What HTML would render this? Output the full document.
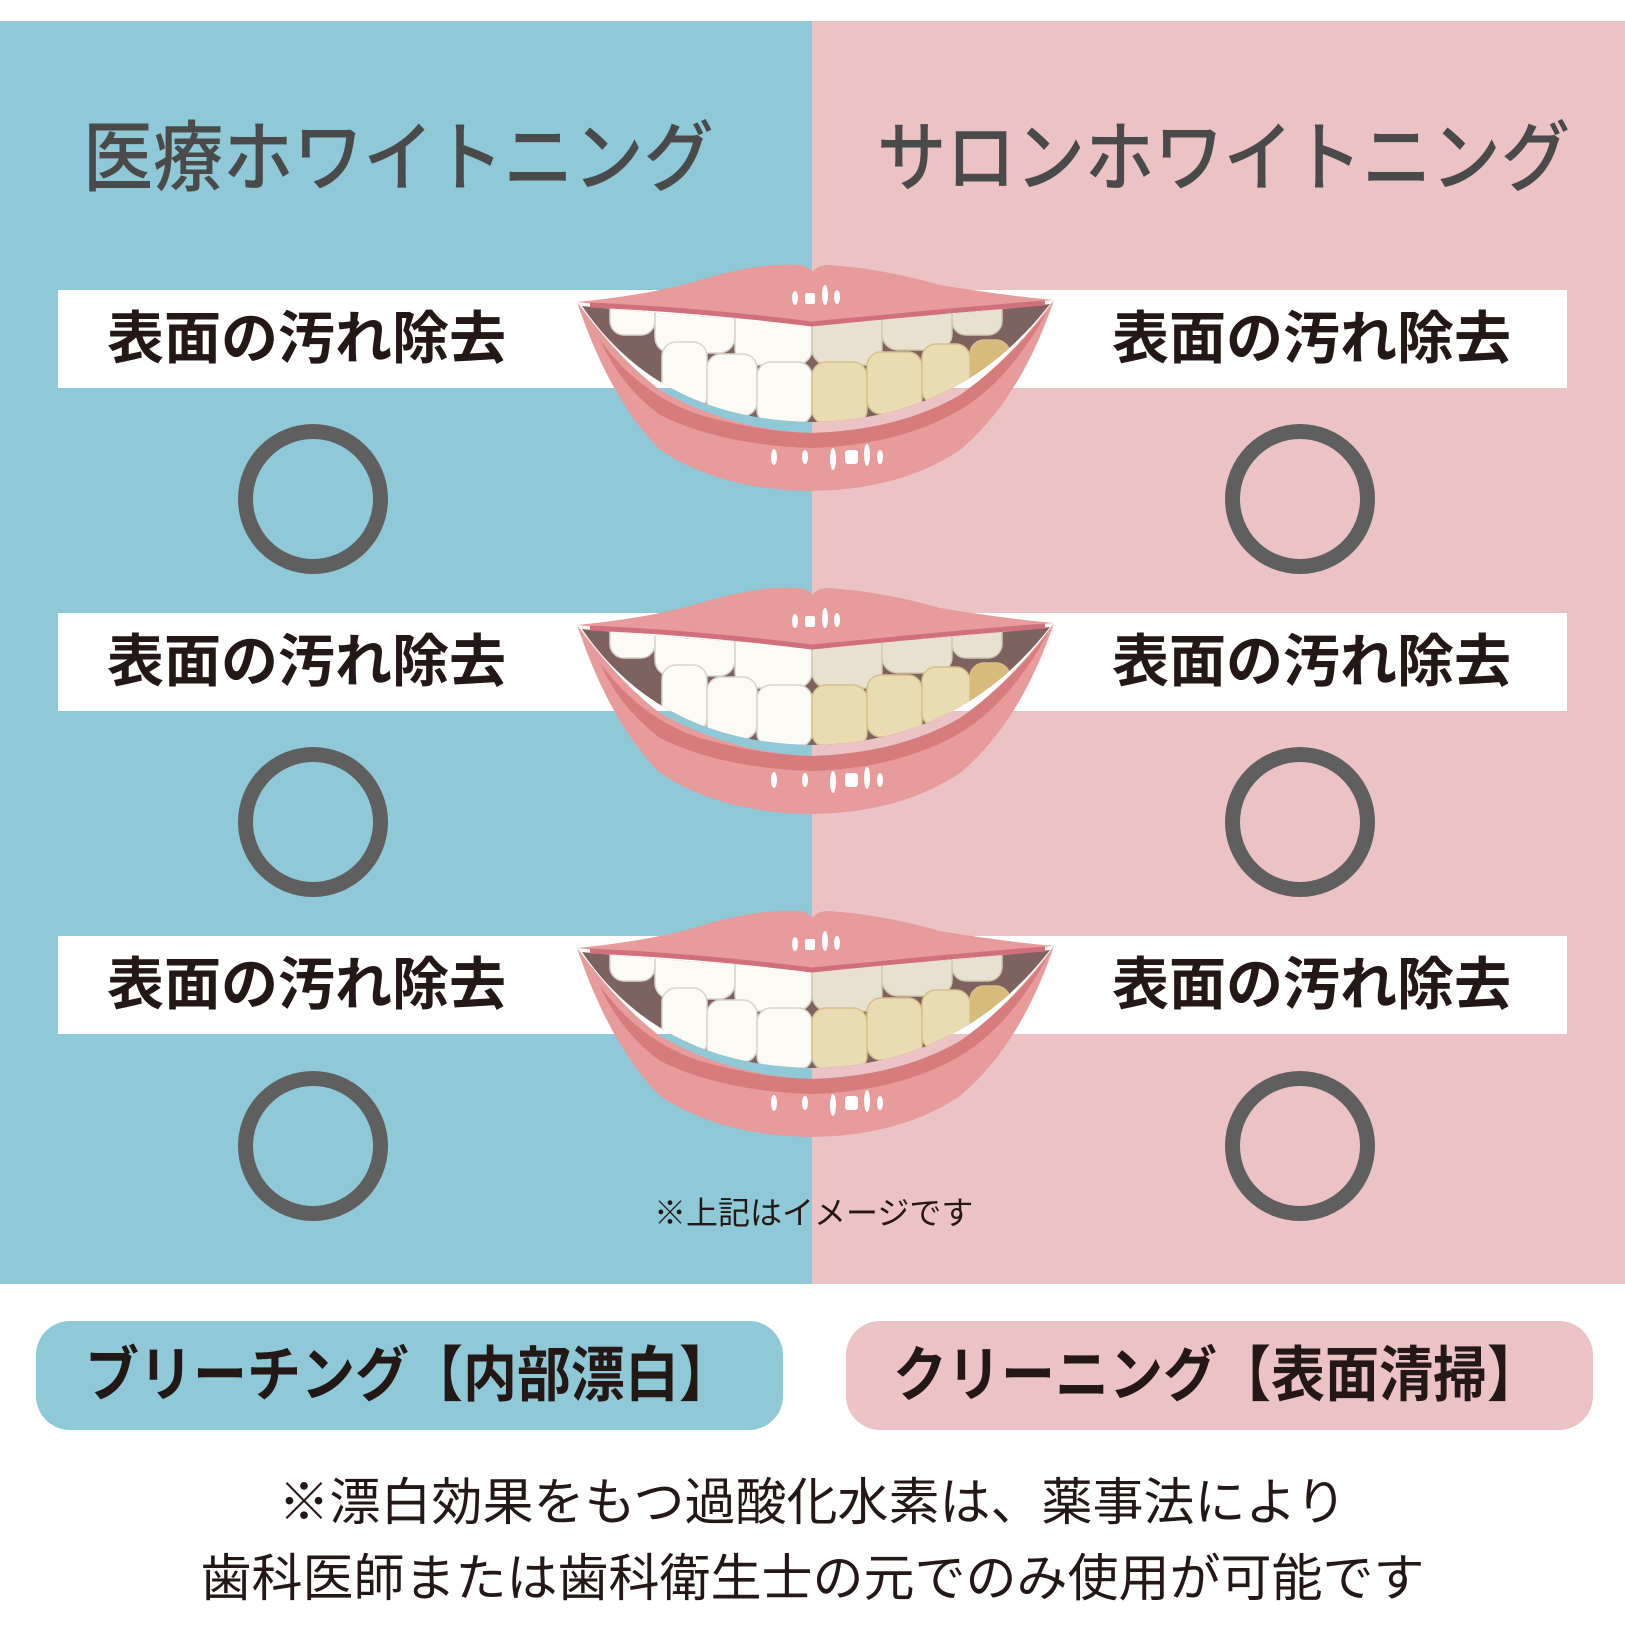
<!DOCTYPE html>
<html><head><meta charset="utf-8">
<style>
html,body{margin:0;padding:0;background:#fff}
body{width:1625px;height:1627px;position:relative;overflow:hidden;font-family:"Liberation Sans","Noto Sans CJK JP",sans-serif}
.p{position:absolute}
.bar{position:absolute;left:58px;width:1509px;height:98px;background:#fff}
.bt{position:absolute;font-weight:bold;font-size:57px;color:#231815;line-height:1;white-space:nowrap}
.c{position:absolute;width:120px;height:120px;border:15px solid #5f5f5f;border-radius:50%}
.title{position:absolute;top:121px;font-size:77px;color:#4a4a4a;line-height:1;white-space:nowrap;font-weight:500;transform-origin:0 0}
.pill{position:absolute;top:1321px;height:109px;width:747px;border-radius:34px;}
.pt{position:absolute;top:1346px;font-size:60px;font-weight:bold;color:#231815;line-height:1;white-space:nowrap;transform:scaleX(0.9);transform-origin:0 0}
.ln{position:absolute;left:0;width:1625px;text-align:center;font-size:51px;color:#231815;line-height:1;white-space:nowrap}
</style></head><body>
<div class="p" style="left:0;top:21px;width:812px;height:1263px;background:#8fc9d8"></div>
<div class="p" style="left:812px;top:21px;width:813px;height:1263px;background:#ebc3c5"></div>
<div class="title" style="left:83px;transform:scaleX(0.91)">医療ホワイトニング</div>
<div class="title" style="left:877px;transform:scaleX(0.9)">サロンホワイトニング</div>

<div class="bar" style="top:290px"></div>
<div class="bar" style="top:613px"></div>
<div class="bar" style="top:936px"></div>
<div class="bt" style="left:107px;top:311px">表面の汚れ除去</div>
<div class="bt" style="left:1112px;top:311px">表面の汚れ除去</div>
<div class="bt" style="left:107px;top:634px">表面の汚れ除去</div>
<div class="bt" style="left:1112px;top:634px">表面の汚れ除去</div>
<div class="bt" style="left:107px;top:957px">表面の汚れ除去</div>
<div class="bt" style="left:1112px;top:957px">表面の汚れ除去</div>

<div class="c" style="left:238px;top:424px"></div>
<div class="c" style="left:1225px;top:424px"></div>
<div class="c" style="left:238px;top:747px"></div>
<div class="c" style="left:1225px;top:747px"></div>
<div class="c" style="left:238px;top:1071px"></div>
<div class="c" style="left:1225px;top:1071px"></div>

<svg class="p" style="left:0;top:0" width="1625" height="1627">
<defs>
<clipPath id="op"><path d="M582,306 Q700,318 812,322 Q930,318 1050,304 Q960,420 812,422 Q660,420 582,306Z"/></clipPath>
<g id="m">
 <path d="M582,306 Q700,318 812,322 Q930,318 1050,304 Q960,420 812,422 Q660,420 582,306Z" fill="#7d625f"/>
 <g clip-path="url(#op)">
  <g fill="#fcfaf5" stroke="#d8d4cc" stroke-width="1.5">
   <rect x="610" y="290" width="45" height="45" rx="14"/>
   <rect x="655" y="295" width="80" height="58" rx="16"/>
   <rect x="735" y="298" width="77" height="67" rx="16"/>
   <rect x="662" y="342" width="45" height="68" rx="14"/>
   <rect x="707" y="354" width="50" height="62" rx="14"/>
   <rect x="757" y="362" width="55" height="62" rx="14"/>
  </g>
  <g fill="#e8e1d0" stroke="#d2c8ad" stroke-width="1.5">
   <rect x="812" y="298" width="70" height="67" rx="16"/>
   <rect x="882" y="295" width="70" height="55" rx="16"/>
   <rect x="952" y="290" width="50" height="45" rx="14"/>
  </g>
  <g fill="#e9dbb2" stroke="#d6c08a" stroke-width="1.5">
   <rect x="812" y="362" width="55" height="62" rx="14"/>
   <rect x="867" y="352" width="55" height="62" rx="14"/>
   <rect x="922" y="344" width="48" height="60" rx="14"/>
   <rect x="970" y="340" width="40" height="50" rx="14" fill="#d6bb7a"/>
  </g>
 </g>
 <path d="M577,302 Q650,295 700,280 Q760,262 800,265 Q808,266 812,272 Q818,265 828,265 Q880,268 940,285 Q1000,295 1054,300 Q1000,305 940,310 Q880,314 830,320 L812,326 L795,320 Q720,312 650,308 Q600,305 577,302Z" fill="#e79b9b"/>
 <path d="M590,305 Q700,310 812,324 Q930,312 1045,303" stroke="#d0707b" stroke-width="5" fill="none"/>
 <path d="M577,302 Q620,360 660,390 Q730,430 812,433 Q900,430 960,395 Q1010,360 1054,300 Q1020,400 960,450 Q900,490 812,491 Q720,490 660,450 Q610,400 577,302Z" fill="#e79b9b"/>
 <path d="M600,340 Q640,395 700,415 Q760,432 812,433 Q900,430 960,395 Q1010,360 1048,310 Q1010,380 960,410 Q900,445 812,448 Q720,445 660,415 Q620,385 600,340Z" fill="#d77c7c"/>
 <ellipse cx="795" cy="298" rx="3" ry="7" fill="#fff"/>
 <rect x="805" y="293" width="10" height="11" fill="#fff" rx="2"/>
 <ellipse cx="825" cy="295" rx="3" ry="10" fill="#fff"/>
 <ellipse cx="837" cy="297" rx="3" ry="7" fill="#fff"/>
 <ellipse cx="774" cy="457" rx="3" ry="8" fill="#fff"/>
 <ellipse cx="805" cy="457" rx="3" ry="7" fill="#fff"/>
 <ellipse cx="833" cy="459" rx="3" ry="11" fill="#fff"/>
 <rect x="845" y="450" width="13" height="14" rx="3" fill="#fff"/>
 <ellipse cx="867" cy="455" rx="3" ry="11" fill="#fff"/>
 <ellipse cx="880" cy="457" rx="3" ry="7" fill="#fff"/>
</g>
</defs>
<use href="#m"/>
<use href="#m" transform="translate(0,323)"/>
<use href="#m" transform="translate(0,646)"/>
</svg>

<div class="p" style="left:654px;top:1197px;font-size:32px;color:#231815;line-height:1;white-space:nowrap">※上記はイメージです</div>

<div class="pill" style="left:36px;background:#8fc9d8"></div>
<div class="pill" style="left:846px;background:#ebc3c5"></div>
<div class="pt" style="left:85px">ブリーチング【内部漂白】</div>
<div class="pt" style="left:893px">クリーニング【表面清掃】</div>

<div class="ln" style="top:1477px">※漂白効果をもつ過酸化水素は、薬事法により</div>
<div class="ln" style="top:1553px">歯科医師または歯科衛生士の元でのみ使用が可能です</div>
</body></html>
